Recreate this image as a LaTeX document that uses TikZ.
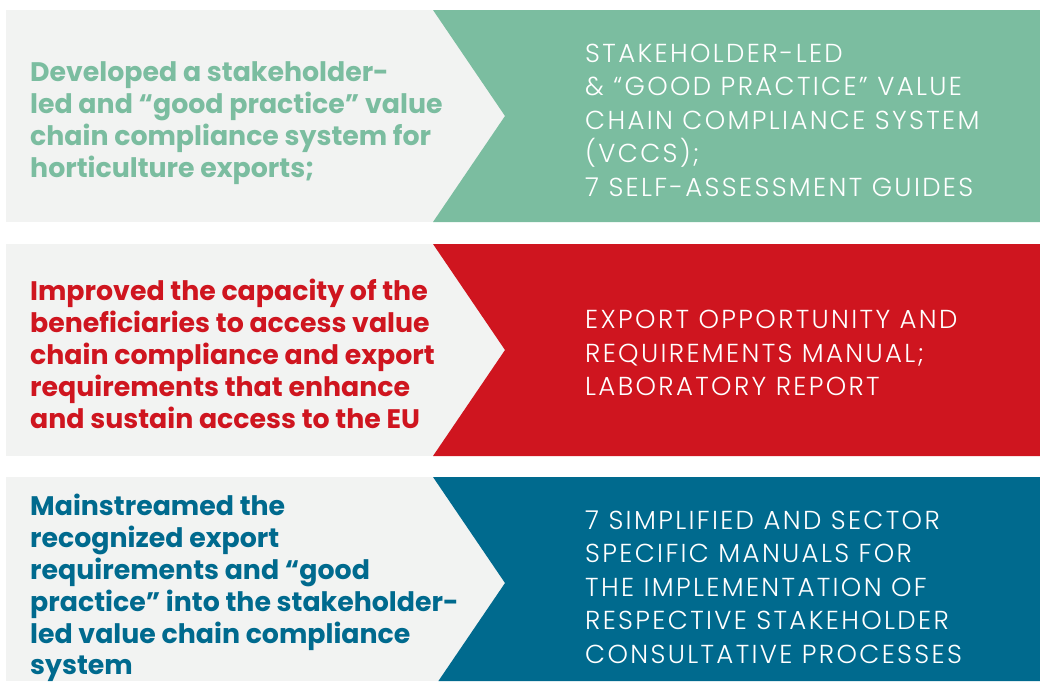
\documentclass[tikz,border=0pt]{standalone}
\usepackage{fontspec}
\setmainfont{Poppins}
\newfontfamily\lightfont{Poppins Light}[LetterSpace=9]
\definecolor{vccsgreen}{HTML}{7BBDA0}
\definecolor{eured}{HTML}{CF151F}
\definecolor{mainblue}{HTML}{006A8E}
\definecolor{panelgray}{HTML}{F2F3F2}
\begin{document}
\begin{tikzpicture}[
    x=1pt, y=-1pt,
    panel/.style={fill=panelgray},
    leftlabel/.style={anchor=west, align=left, inner sep=0pt, font=\bfseries\fontsize{26.8}{31.9}\selectfont},
    rightlabel/.style={anchor=west, align=left, inner sep=0pt, text=white, font=\lightfont\fontsize{26}{33.5}\selectfont}
]
    \useasboundingbox (0,0) rectangle (1040,681);

    % Row 1: value chain compliance system
    \fill[panel] (6,10) rectangle (505,222);
    \fill[vccsgreen] (433,10) -- (505,116) -- (433,222) -- (1040,222) -- (1040,10) -- cycle;
    \node[leftlabel, text=vccsgreen] (goal1) at (30,123) {Developed a stakeholder-\\led and “good practice” value\\chain compliance system for\\horticulture exports;};
    \node[rightlabel] (out1) at (585,120) {STAKEHOLDER-LED\\\& “GOOD PRACTICE” VALUE\\CHAIN COMPLIANCE SYSTEM\\(VCCS);\\7 SELF-ASSESSMENT GUIDES};

    % Row 2: export requirements
    \fill[panel] (6,244) rectangle (505,456);
    \fill[eured] (433,244) -- (505,350) -- (433,456) -- (1040,456) -- (1040,244) -- cycle;
    \node[leftlabel, text=eured] (goal2) at (30,354) {Improved the capacity of the\\beneficiaries to access value\\chain compliance and export\\requirements that enhance\\and sustain access to the EU};
    \node[rightlabel] (out2) at (585,353) {EXPORT OPPORTUNITY AND\\REQUIREMENTS MANUAL;\\LABORATORY REPORT};

    % Row 3: mainstreaming (cut at the page edge)
    \fill[panel] (6,477) rectangle (505,681);
    \fill[mainblue] (433,477) -- (505,583) -- (438.4,681) -- (1040,681) -- (1040,477) -- cycle;
    \node[leftlabel, text=mainblue] (goal3) at (30,588) {Mainstreamed the\\recognized export\\requirements and “good\\practice” into the stakeholder-\\led value chain compliance\\system};
    \node[rightlabel] (out3) at (585,587) {7 SIMPLIFIED AND SECTOR\\SPECIFIC MANUALS FOR\\THE IMPLEMENTATION OF\\RESPECTIVE STAKEHOLDER\\CONSULTATIVE PROCESSES};

\end{tikzpicture}
\end{document}
